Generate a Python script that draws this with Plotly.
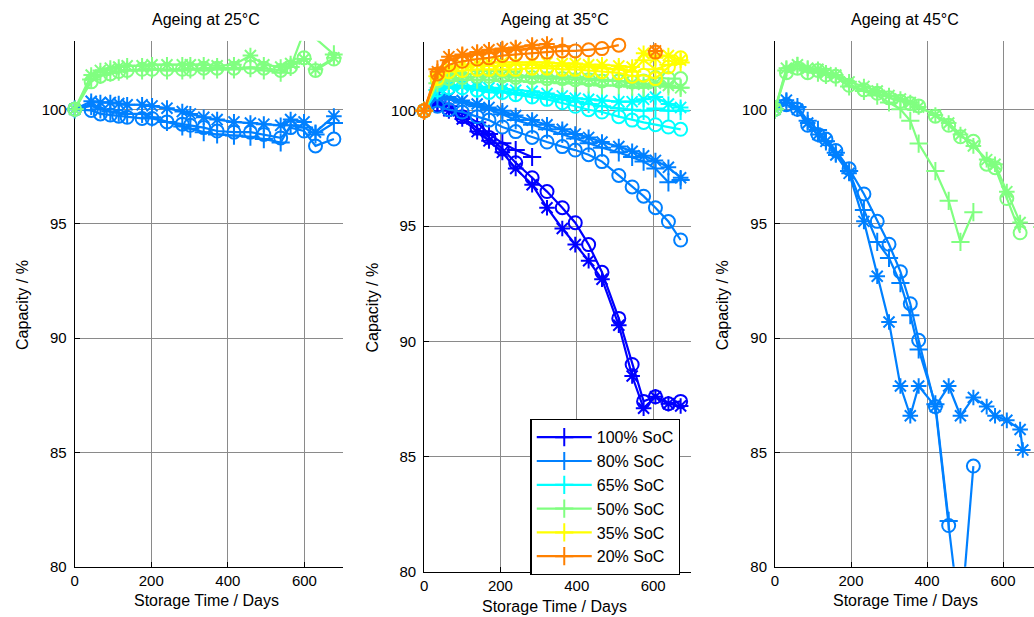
import plotly.graph_objects as go

# ---------------- data ----------------
soc_labels = ["100% SoC", "80% SoC", "65% SoC", "50% SoC", "35% SoC", "20% SoC"]
soc_colors = ["#0000ff", "#0080ff", "#00ffff", "#80ff80", "#ffff00", "#ff8000"]
panel_titles = ["Ageing at 25°C", "Ageing at 35°C", "Ageing at 45°C"]
x_ticks = [0, 200, 400, 600]
y_ticks = [80, 85, 90, 95, 100]

# 25 °C
t25 = [0, 43, 67, 93, 115, 137, 176, 202, 241, 281, 302, 337, 372, 416, 459, 494, 538, 564, 599, 629, 677]
c25_80_plus = [100, 100.15, 100.0, 99.9, 99.85, 99.8, 99.8, 99.65, 99.45, 99.25, 99.15, 99.0, 98.9, 98.85, 98.8, 98.7, 98.55, 99.3, 99.2, 98.9, 99.4]
c25_80_star = [100, 100.35, 100.3, 100.3, 100.25, 100.2, 100.2, 100.15, 100.05, 99.9, 99.8, 99.65, 99.55, 99.45, 99.4, 99.35, 99.3, 99.55, 99.45, 99.0, 99.7]
c25_80_circ = [100, 99.95, 99.8, 99.75, 99.7, 99.65, 99.6, 99.6, 99.45, 99.35, 99.3, 99.2, 99.05, 99.0, 99.0, 98.9, 98.75, 99.2, 99.05, 98.4, 98.7]
c25_50_plus = [100, 101.3, 101.5, 101.6, 101.65, 101.7, 101.7, 101.75, 101.7, 101.7, 101.75, 101.7, 101.75, 101.75, 101.8, 101.7, 101.6, 101.85, 103.4, 103.1, 102.4]
c25_50_star = [100, 101.5, 101.7, 101.8, 101.85, 101.9, 101.9, 101.95, 101.95, 101.95, 101.95, 101.95, 101.9, 101.95, 102.35, 101.95, 101.85, 102.0, 102.2, 101.75, 102.25]
c25_50_circ = [100, 101.2, 101.45, 101.55, 101.65, 101.7, 101.75, 101.75, 101.75, 101.75, 101.75, 101.8, 101.8, 101.8, 101.85, 101.8, 101.7, 101.85, 102.25, 101.7, 102.2]

# 35 °C
t35 = [0, 35, 65, 100, 139, 170, 205, 240, 283, 322, 362, 396, 431, 466, 510, 545, 575, 606, 640, 672]
c35_100_plus = [100, 100.4, 100.2, 99.9, 99.5, 99.0, 98.6, 98.3, 98.0, None, None, None, None, None, None, None, None, None, None, None]
c35_100_star = [100, 100.3, 100.0, 99.65, 99.1, 98.7, 98.2, 97.5, 96.8, 95.8, 94.9, 94.2, 93.5, 92.7, 90.7, 88.5, 87.1, 87.6, 87.3, 87.2]
c35_100_circ = [100, 100.25, 100.05, 99.75, 99.25, 98.85, 98.35, 97.75, 97.1, 96.5, 95.8, 95.15, 94.2, 93.0, 91.0, 89.0, 87.4, 87.6, 87.3, 87.4]
c35_80_plus = [100, 100.6, 100.5, 100.35, 100.2, 100.05, 99.85, 99.6, 99.4, 99.2, 99.0, 98.8, 98.6, 98.4, 98.2, 98.0, 97.8, 97.5, 96.9, 97.0]
c35_80_star = [100, 100.7, 100.6, 100.45, 100.3, 100.15, 100.0, 99.8, 99.6, 99.4, 99.2, 99.0, 98.85, 98.65, 98.45, 98.25, 98.05, 97.85, 97.55, 97.1]
c35_80_circ = [100, 100.2, 100.05, 99.95, 99.75, 99.6, 99.3, 99.1, 98.85, 98.65, 98.45, 98.3, 98.1, 97.8, 97.2, 96.7, 96.3, 95.8, 95.2, 94.4]
c35_65_plus = [100, 100.9, 101.05, 101.05, 100.95, 100.9, 100.85, 100.8, 100.7, 100.6, 100.5, 100.4, 100.3, 100.2, 100.1, 100.05, 100.0, 100.1, 100.0, 100.0]
c35_65_star = [100, 101.0, 101.1, 101.1, 101.05, 101.0, 100.95, 100.9, 100.85, 100.75, 100.65, 100.55, 100.5, 100.45, 100.4, 100.4, 100.5, 100.6, 100.3, 100.15]
c35_65_circ = [100, 100.9, 101.0, 101.0, 100.9, 100.8, 100.8, 100.7, 100.6, 100.5, 100.35, 100.2, 100.05, 99.95, 99.75, 99.6, 99.5, 99.4, 99.3, 99.2]
c35_50_plus = [100, 101.2, 101.3, 101.35, 101.35, 101.35, 101.3, 101.3, 101.25, 101.25, 101.2, 101.2, 101.15, 101.1, 101.1, 101.05, 101.0, 101.1, 101.05, 101.0]
c35_50_star = [100, 101.4, 101.55, 101.6, 101.6, 101.6, 101.55, 101.55, 101.5, 101.5, 101.45, 101.45, 101.4, 101.35, 101.3, 101.2, 101.15, 101.2, 101.1, 101.0]
c35_50_circ = [100, 101.3, 101.4, 101.45, 101.5, 101.5, 101.5, 101.45, 101.45, 101.4, 101.4, 101.35, 101.35, 101.3, 101.3, 101.25, 101.3, 101.45, 101.4, 101.4]
c35_35_plus = [100, 101.5, 101.8, 101.9, 101.95, 101.95, 101.95, 102.0, 102.0, 101.95, 101.95, 101.9, 101.9, 101.85, 101.8, 101.7, 102.2, 101.8, 102.0, 102.1]
c35_35_star = [100, 101.6, 101.9, 102.0, 102.05, 102.1, 102.1, 102.1, 102.1, 102.1, 102.05, 102.05, 102.0, 102.0, 101.95, 101.9, 102.5, 102.3, 102.4, 102.2]
c35_35_circ = [100, 101.4, 101.7, 101.75, 101.8, 101.8, 101.8, 101.8, 101.85, 101.85, 101.8, 101.8, 101.75, 101.7, 101.65, 101.5, 101.55, 101.4, 101.9, 102.3]
c35_20_plus = [100, 101.8, 102.2, 102.35, 102.45, 102.5, 102.6, 102.65, 102.7, 102.75, 102.8, None, None, None, None, None, None, None, None, None]
c35_20_star = [100, 101.7, 102.35, 102.45, 102.55, 102.65, 102.7, 102.75, 102.85, 102.9, None, None, None, None, None, None, None, 102.6, None, None]
c35_20_circ = [100, 101.6, 102.0, 102.15, 102.25, 102.3, 102.4, 102.45, 102.5, 102.55, 102.6, 102.6, 102.65, 102.7, 102.85, None, None, 102.55, None, None]

# 45 °C
t45 = [0, 30, 59, 86, 113, 134, 160, 195, 234, 269, 300, 330, 356, 378, 422, 457, 488, 522, 557, 579, 610, 645, 652, 700]
c45_80_plus = [100, 100.3, 100.1, 99.5, 99.1, 98.6, 98.1, 97.3, 95.6, 94.2, 93.5, 92.4, 91.0, 89.5, 87.1, 82.0, None, None, None, None, None, None, None, None]
c45_80_star = [100, 100.4, 100.0, 99.4, 98.9, 98.6, 98.0, 97.2, 95.1, 92.7, 90.7, 87.9, 86.6, 87.9, 87.0, 87.9, 86.6, 87.4, 87.0, 86.6, 86.4, 86.0, 85.1, None]
c45_80_circ = [100, 100.2, 100.0, 99.3, 98.9, 98.7, 98.2, 97.4, 96.3, 95.1, 94.1, 92.9, 91.5, 89.9, 87.0, 81.8, 77.5, 84.4, None, None, None, None, None, None]
c45_50_plus = [100, 101.7, 101.9, 101.7, 101.6, 101.5, 101.4, 101.0, 100.8, 100.6, 100.3, 100.0, 99.5, 98.5, 97.3, 96.0, 94.2, 95.5, None, None, None, None, None, None]
c45_50_star = [100, 101.8, 101.95, 101.8, 101.75, 101.6, 101.5, 101.2, 101.0, 100.8, 100.6, 100.45, 100.3, 100.1, 99.75, 99.4, 98.9, 98.4, 97.8, 97.6, 96.4, 95.05, None, 94.85]
c45_50_circ = [100, 101.6, 101.8, 101.6, 101.7, 101.5, 101.45, 101.05, 100.85, 100.7, 100.5, 100.35, 100.25, 100.15, 99.7, 99.3, 98.8, 98.6, 97.6, 97.45, 96.1, 94.6, None, None]

# ---------------- figure ----------------
W, H = 1034, 617
H_EFF = 609.0  # the captured page is squeezed vertically; positions are given in captured pixels
FONT = "Liberation Sans, Arial, Helvetica, sans-serif"
fig = go.Figure()

styles = {"plus": "cross-thin-open", "star": "asterisk-open", "circ": "circle-open"}

series = [
    (1, 1, "plus", t25, c25_80_plus), (1, 1, "star", t25, c25_80_star), (1, 1, "circ", t25, c25_80_circ),
    (1, 3, "plus", t25, c25_50_plus), (1, 3, "star", t25, c25_50_star), (1, 3, "circ", t25, c25_50_circ),
    (2, 0, "plus", t35, c35_100_plus), (2, 0, "star", t35, c35_100_star), (2, 0, "circ", t35, c35_100_circ),
    (2, 1, "plus", t35, c35_80_plus), (2, 1, "star", t35, c35_80_star), (2, 1, "circ", t35, c35_80_circ),
    (2, 2, "plus", t35, c35_65_plus), (2, 2, "star", t35, c35_65_star), (2, 2, "circ", t35, c35_65_circ),
    (2, 3, "plus", t35, c35_50_plus), (2, 3, "star", t35, c35_50_star), (2, 3, "circ", t35, c35_50_circ),
    (2, 4, "plus", t35, c35_35_plus), (2, 4, "star", t35, c35_35_star), (2, 4, "circ", t35, c35_35_circ),
    (2, 5, "plus", t35, c35_20_plus), (2, 5, "star", t35, c35_20_star), (2, 5, "circ", t35, c35_20_circ),
    (3, 1, "plus", t45, c45_80_plus), (3, 1, "star", t45, c45_80_star), (3, 1, "circ", t45, c45_80_circ),
    (3, 3, "plus", t45, c45_50_plus), (3, 3, "star", t45, c45_50_star), (3, 3, "circ", t45, c45_50_circ),
]

for ax, si, st, xs, ys in series:
    out_of_range = any(v is not None and (v < 80 or v > 103) for v in ys) or (ax == 3 and xs[-1] > 680)
    fig.add_trace(go.Scatter(
        x=xs, y=ys, mode="lines+markers",
        xaxis="x" if ax == 1 else f"x{ax}", yaxis="y" if ax == 1 else f"y{ax}",
        line=dict(color=soc_colors[si], width=2.2),
        marker=dict(symbol=styles[st], size=13, color=soc_colors[si],
                    line=dict(width=2, color=soc_colors[si])),
        name=soc_labels[si],
        showlegend=(ax == 2 and st == "plus"),
        cliponaxis=out_of_range,
        connectgaps=False,
        hoverinfo="skip",
    ))

def px_x(p):
    return p / W

def px_y(p):
    return 1 - p / H_EFF

axis_common = dict(
    showgrid=True, gridcolor="#8a8a8a", gridwidth=1,
    showline=True, linecolor="black", linewidth=1,
    ticks="inside", ticklen=5, tickcolor="black", tickwidth=1,
    zeroline=False, layer="below traces",
    tickfont=dict(family=FONT, size=15, color="black"),
)

x_domains = [(71, 340), (421.7, 690), (774, 1034)]
x_ranges = [[0, 700], [0, 700], [0, (1034 - 774) / 0.3815]]
y_doms = [(40.7, 566.7), (41.7, 572), (40.7, 566.7)]

layout = dict(
    width=W, height=H, margin=dict(l=0, r=0, t=0, b=0),
    paper_bgcolor="white", plot_bgcolor="white",
    font=dict(family=FONT, size=16, color="black"),
    legend=dict(
        x=px_x(528.5), y=px_y(419), xanchor="left", yanchor="top",
        bordercolor="black", borderwidth=1.3, bgcolor="white",
        font=dict(family=FONT, size=16, color="black"),
        itemwidth=55, tracegroupgap=0,
    ),
)
for i in range(3):
    k = "" if i == 0 else str(i + 1)
    layout["xaxis" + k] = dict(
        domain=[px_x(x_domains[i][0]), px_x(x_domains[i][1])], range=x_ranges[i],
        anchor="y" + k, tickvals=x_ticks, **axis_common)
    layout["yaxis" + k] = dict(
        domain=[px_y(y_doms[i][1]), px_y(y_doms[i][0])], range=[80, 103],
        anchor="x" + k, tickvals=y_ticks, ticklabelstandoff=4, **axis_common)

fig.update_layout(**layout)

annos = []
title_x = [203, 553, 905]
for i in range(3):
    annos.append(dict(text=panel_titles[i], x=px_x(title_x[i]), y=px_y(19.5), xref="paper", yref="paper",
                      xanchor="center", yanchor="middle", showarrow=False, font=dict(family=FONT, size=16)))
xlab_pos = [(203, 600), (553, 606.5), (905, 600)]
ylab_pos = [(18, 305), (369, 308), (721, 305)]
for i in range(3):
    annos.append(dict(text="Storage Time / Days", x=px_x(xlab_pos[i][0]), y=px_y(xlab_pos[i][1]),
                      xref="paper", yref="paper", xanchor="center", yanchor="middle", showarrow=False,
                      font=dict(family=FONT, size=16)))
    annos.append(dict(text="Capacity / %", x=px_x(ylab_pos[i][0]), y=px_y(ylab_pos[i][1]), textangle=-90,
                      xref="paper", yref="paper", xanchor="center", yanchor="middle", showarrow=False,
                      font=dict(family=FONT, size=16)))
fig.update_layout(annotations=annos)

fig.write_html("out.html")
